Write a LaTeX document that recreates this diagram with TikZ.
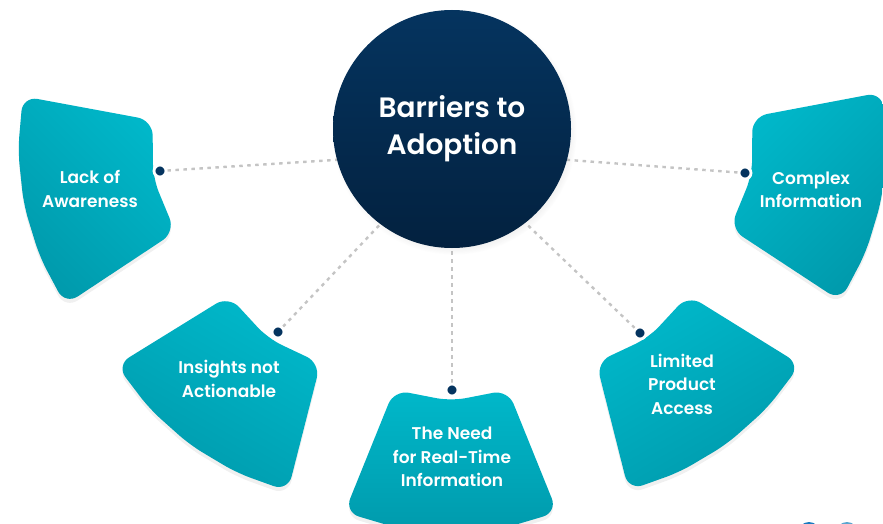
\documentclass[tikz,border=0pt]{standalone}
\usepackage{fontspec}
\setmainfont{Poppins}
\newfontfamily\labelfont{Poppins}[UprightFont={* SemiBold}]
\usetikzlibrary{shadows}
\pgfdeclarelayer{edgelayer}
\pgfdeclarelayer{nodelayer}
\pgfsetlayers{edgelayer,nodelayer,main}
\definecolor{navy}{HTML}{05345F}
\definecolor{navydark}{HTML}{03213F}
\definecolor{tealin}{HTML}{00B8CA}
\definecolor{tealout}{HTML}{009AAC}
\definecolor{linkgray}{HTML}{C4C4C4}
\definecolor{logoblue}{HTML}{1A7BC0}
\definecolor{logosky}{HTML}{5AA6D0}
\definecolor{logogreen}{HTML}{3DB54A}
\tikzstyle{hub}=[circle,minimum size=238pt,inner sep=0pt,top color=navy,bottom color=navydark,text=white,align=center,font=\labelfont\fontsize{28}{37}\selectfont,circular drop shadow={opacity=0.25,shadow xshift=2pt,shadow yshift=-3pt,shadow scale=1.03}]
\tikzstyle{petal}=[rounded corners=15pt,top color=tealin,bottom color=tealout,drop shadow={opacity=0.12,shadow xshift=0pt,shadow yshift=-4pt}]
\tikzstyle{pin}=[circle,fill=navy,draw=white,line width=2.8pt,minimum size=12pt,inner sep=0pt]
\tikzstyle{label}=[text=white,align=center,font=\labelfont\fontsize{17}{23.5}\selectfont]
\tikzstyle{link}=[draw=linkgray,line width=2.4pt,dash pattern=on 3.5pt off 4.5pt]

\begin{document}
\begin{tikzpicture}[x=1pt,y=1pt]
	\useasboundingbox (0,0) rectangle (883,-524);
	\begin{pgfonlayer}{nodelayer}
		% fan pieces: centre x / centre y / heading / shading angle
		\foreach \cx/\cy/\ang/\sh in {302/148/191.5/315, 358/216/233.7/330, 451/249/270/0, 559/215/306.2/30, 603/145/348.7/45}
			\path [style=petal, shading angle=\sh, shift={(\cx,-\cy)}, rotate=\ang]
				(-22:152) -- (-22:284) -- (-11:284) -- (0:284) -- (11:284) -- (22:284)
				-- (22:152) -- (0:152) -- cycle;
		\node [style=hub] (hub) at (452, -129) {Barriers to\\Adoption};
		\node [style=pin] (1) at (160, -171) {};
		\node [style=pin] (2) at (278, -332) {};
		\node [style=pin] (3) at (452, -390) {};
		\node [style=pin] (4) at (640, -333) {};
		\node [style=pin] (5) at (745, -173) {};
		\node [style=label] (awareness) at (90, -188.7) {Lack of\\Awareness};
		\node [style=label] (insights) at (229, -379) {Insights not\\Actionable};
		\node [style=label] (realtime) at (452, -457) {The Need\\for Real-Time\\Information};
		\node [style=label] (access) at (682, -384) {Limited\\Product\\Access};
		\node [style=label] (complex) at (811, -190) {Complex\\Information};
		% logo peeking in at the bottom edge
		\fill [logoblue] (809, -533) circle (11);
		\fill [logosky] (847, -533) circle (11);
		\fill [logogreen] (882, -535) circle (9);
	\end{pgfonlayer}
	\begin{pgfonlayer}{edgelayer}
		\draw [style=link] (1) -- (hub.195);
		\draw [style=link] (2) -- (hub.233);
		\draw [style=link] (3) -- (hub.270);
		\draw [style=link] (4) -- (hub.308);
		\draw [style=link] (5) -- (hub.345);
	\end{pgfonlayer}
\end{tikzpicture}
\end{document}
